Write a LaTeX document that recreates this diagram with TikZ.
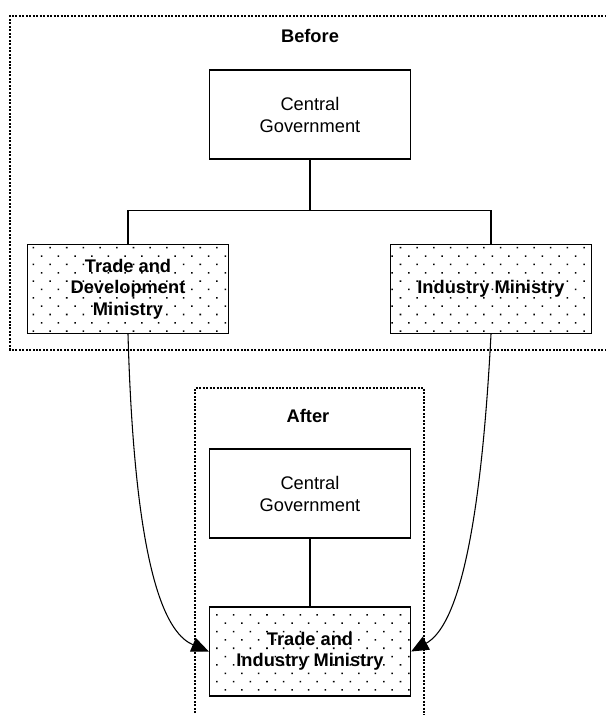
\documentclass[tikz,border=0pt]{standalone}
\usepackage{fontspec}
\setmainfont{Liberation Sans}
\usetikzlibrary{arrows.meta,patterns.meta}

\begin{document}
\begin{tikzpicture}[
  x=0.75pt, y=-0.75pt,
  every node/.style={font=\fontsize{13.7}{16.5}\selectfont, align=center},
]
%-------------------------------------------------------------
% Styles
\tikzset{box/.style={draw, line width=1pt, minimum width=150.75pt, minimum height=66.75pt, inner sep=2pt}}
\tikzset{boxP/.style={box, pattern={Dots[distance=8.85pt, angle=45, radius=0.8pt]}, font=\fontsize{13.7}{16}\selectfont\bfseries}}
\tikzset{frame/.style={line width=1.6pt, dash pattern=on 1.5pt off 1.1pt}}
\tikzset{arrowC/.style={draw, -{Triangle[length=13pt,width=11pt]}, line width=0.8pt}}

\useasboundingbox (0,0) rectangle (606,715);

%-------------------------------------------------------------
% Frames
\draw[frame] (610,350) -- (10,350) -- (10,16) -- (610,16);
\draw[frame] (195,720) -- (195,388) -- (424,388) -- (424,720);

%============================================================
% Before
\node[font=\fontsize{13.7}{16}\selectfont\bfseries] (B) at (310,36) {Before};
\node[box] (B1) at (310,114.5) {Central\\Government};
\node[boxP] (B2) at (128,289) {Trade and\\Development\\Ministry};
\node[boxP] (B3) at (491,289) {Industry Ministry};

\draw[line width=1pt] (B1.south) -- ++(0,51) coordinate (fork);
\draw[line width=1pt] (fork) -| (B2.north);
\draw[line width=1pt] (fork) -| (B3.north);

%============================================================
% After
\node[font=\fontsize{13.7}{16}\selectfont\bfseries] (A) at (308,416) {After};
\node[box] (A1) at (310,493.5) {Central\\Government};
\node[boxP] (A2) at (310,651.5) {Trade and\\Industry Ministry};

\draw[line width=1.5pt] (A1) -- (A2);

%---------------------------------------------------
% Merge arrows
\draw[arrowC] (B2.south) .. controls +(7,250) and +(-40,-17) .. (A2.west);
\draw[arrowC] (B3.south) .. controls +(-12,230) and +(40,-22) .. (A2.east);

\end{tikzpicture}
\end{document}
